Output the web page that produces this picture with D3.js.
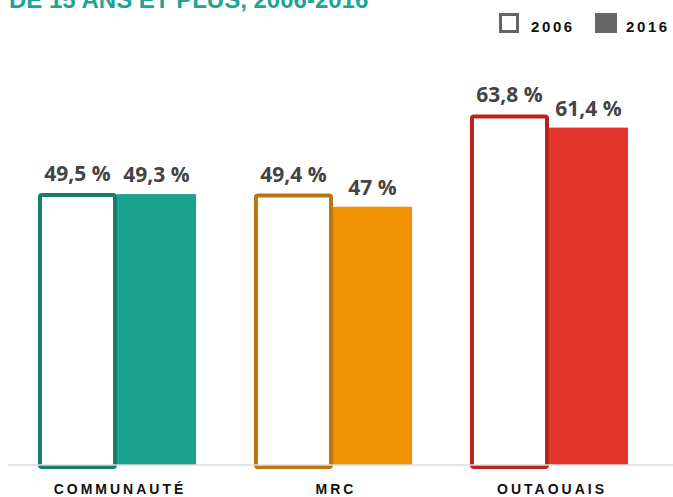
<!DOCTYPE html>
<html>
<head>
<meta charset="utf-8">
<script src="https://cdn.jsdelivr.net/npm/d3@7"></script>
<style>
  body { margin: 0; background: #fff; }
  svg { display: block; }
</style>
</head>
<body>
<div id="chart"></div>
<script>
// data
var categories = ["COMMUNAUTÉ", "MRC", "OUTAOUAIS"];
var years = ["2006", "2016"];
var values2006 = [49.5, 49.4, 63.8];
var values2016 = [49.3, 47, 61.4];
var fillColors = ["#1ba190", "#f09200", "#e3352b"];
var strokeColors = ["#177c6c", "#bb7611", "#ba2220"];

var vWidth = 673, vHeight = 497;
var vBase = 465;

var svg = d3.select("#chart")
    .append("svg")
    .attr("width", vWidth)
    .attr("height", vHeight);

// title (partially cut off at top)
svg.append("text")
    .attr("x", 9)
    .attr("y", 8)
    .style("font-family", "Liberation Sans, Arial, sans-serif")
    .style("font-weight", "bold")
    .style("font-size", "24px")
    .style("fill", "#20a390")
    .text("DE 15 ANS ET PLUS, 2006-2016");

// legend
var legend = svg.append("g").attr("transform", "translate(499,13)");
legend.append("rect")
    .attr("x", 1.5).attr("y", 1.5)
    .attr("width", 17).attr("height", 17)
    .style("fill", "#fff").style("stroke", "#666").style("stroke-width", 3);
legend.append("rect")
    .attr("x", 96).attr("y", 0)
    .attr("width", 22).attr("height", 20)
    .style("fill", "#666");
legend.selectAll("text.leg")
    .data(years)
    .enter()
    .append("text")
    .attr("class", "leg")
    .attr("x", function (d, i) { return i === 0 ? 32 : 127; })
    .attr("y", 19)
    .style("font-family", "Liberation Sans, Arial, sans-serif")
    .style("font-weight", "bold")
    .style("font-size", "15px")
    .style("letter-spacing", "2.6px")
    .style("fill", "#111")
    .text(function (d) { return d; });

// scales
var vX = d3.scaleBand()
    .domain(categories)
    .range([9, 657])
    .paddingInner(0.268)
    .paddingOuter(0.134);

var vXInner = d3.scaleBand()
    .domain(years)
    .range([0, vX.bandwidth()]);

var vY = d3.scaleLinear()
    .domain([0, 70])
    .range([vBase, vBase - 70 * 5.495]);

function fmt(v) {
    return String(v).replace(".", ",") + " %";
}

var rows = categories.map(function (c, i) {
    return { cat: c, i: i, v2006: values2006[i], v2016: values2016[i] };
});

var groups = svg.selectAll("g.grp")
    .data(rows)
    .enter()
    .append("g")
    .attr("class", "grp")
    .attr("transform", function (d) { return "translate(" + vX(d.cat) + ",0)"; });

// 2016 filled bars
groups.append("rect")
    .attr("x", vXInner("2016"))
    .attr("y", function (d) { return vY(d.v2016); })
    .attr("width", vXInner.bandwidth())
    .attr("height", function (d) { return vBase - vY(d.v2016); })
    .style("fill", function (d) { return fillColors[d.i]; });

// 2006 outlined bars
groups.append("rect")
    .attr("x", vXInner("2006") + 2)
    .attr("y", function (d) { return vY(d.v2006) + 2; })
    .attr("width", vXInner.bandwidth() - 4)
    .attr("height", function (d) { return vBase - vY(d.v2006); })
    .attr("rx", 2)
    .style("fill", "#fff")
    .style("stroke", function (d) { return strokeColors[d.i]; })
    .style("stroke-width", 4);

// baseline
svg.append("rect")
    .attr("x", 8)
    .attr("y", vBase - 1)
    .attr("width", vWidth - 8)
    .attr("height", 2)
    .style("fill", "#dcdcdc")
    .style("opacity", 0.75);

// value labels
groups.append("text")
    .attr("x", vXInner("2006") + vXInner.bandwidth() / 2)
    .attr("y", function (d) { return vY(d.v2006) - 12; })
    .attr("text-anchor", "middle")
    .attr("class", "val")
    .text(function (d) { return fmt(d.v2006); });
groups.append("text")
    .attr("x", vXInner("2016") + vXInner.bandwidth() / 2)
    .attr("y", function (d) { return vY(d.v2016) - 12; })
    .attr("text-anchor", "middle")
    .attr("class", "val")
    .text(function (d) { return fmt(d.v2016); });
svg.selectAll("text.val")
    .style("font-family", "Open Sans, sans-serif")
    .style("font-weight", "bold")
    .style("font-size", "21px")
    .style("fill", "#444");

// category labels
groups.append("text")
    .attr("x", vX.bandwidth() / 2 + 3)
    .attr("y", 494)
    .attr("text-anchor", "middle")
    .style("font-family", "Liberation Sans, Arial, sans-serif")
    .style("font-weight", "bold")
    .style("font-size", "14px")
    .style("letter-spacing", "3px")
    .style("fill", "#111")
    .text(function (d) { return d.cat; });
</script>
</body>
</html>
